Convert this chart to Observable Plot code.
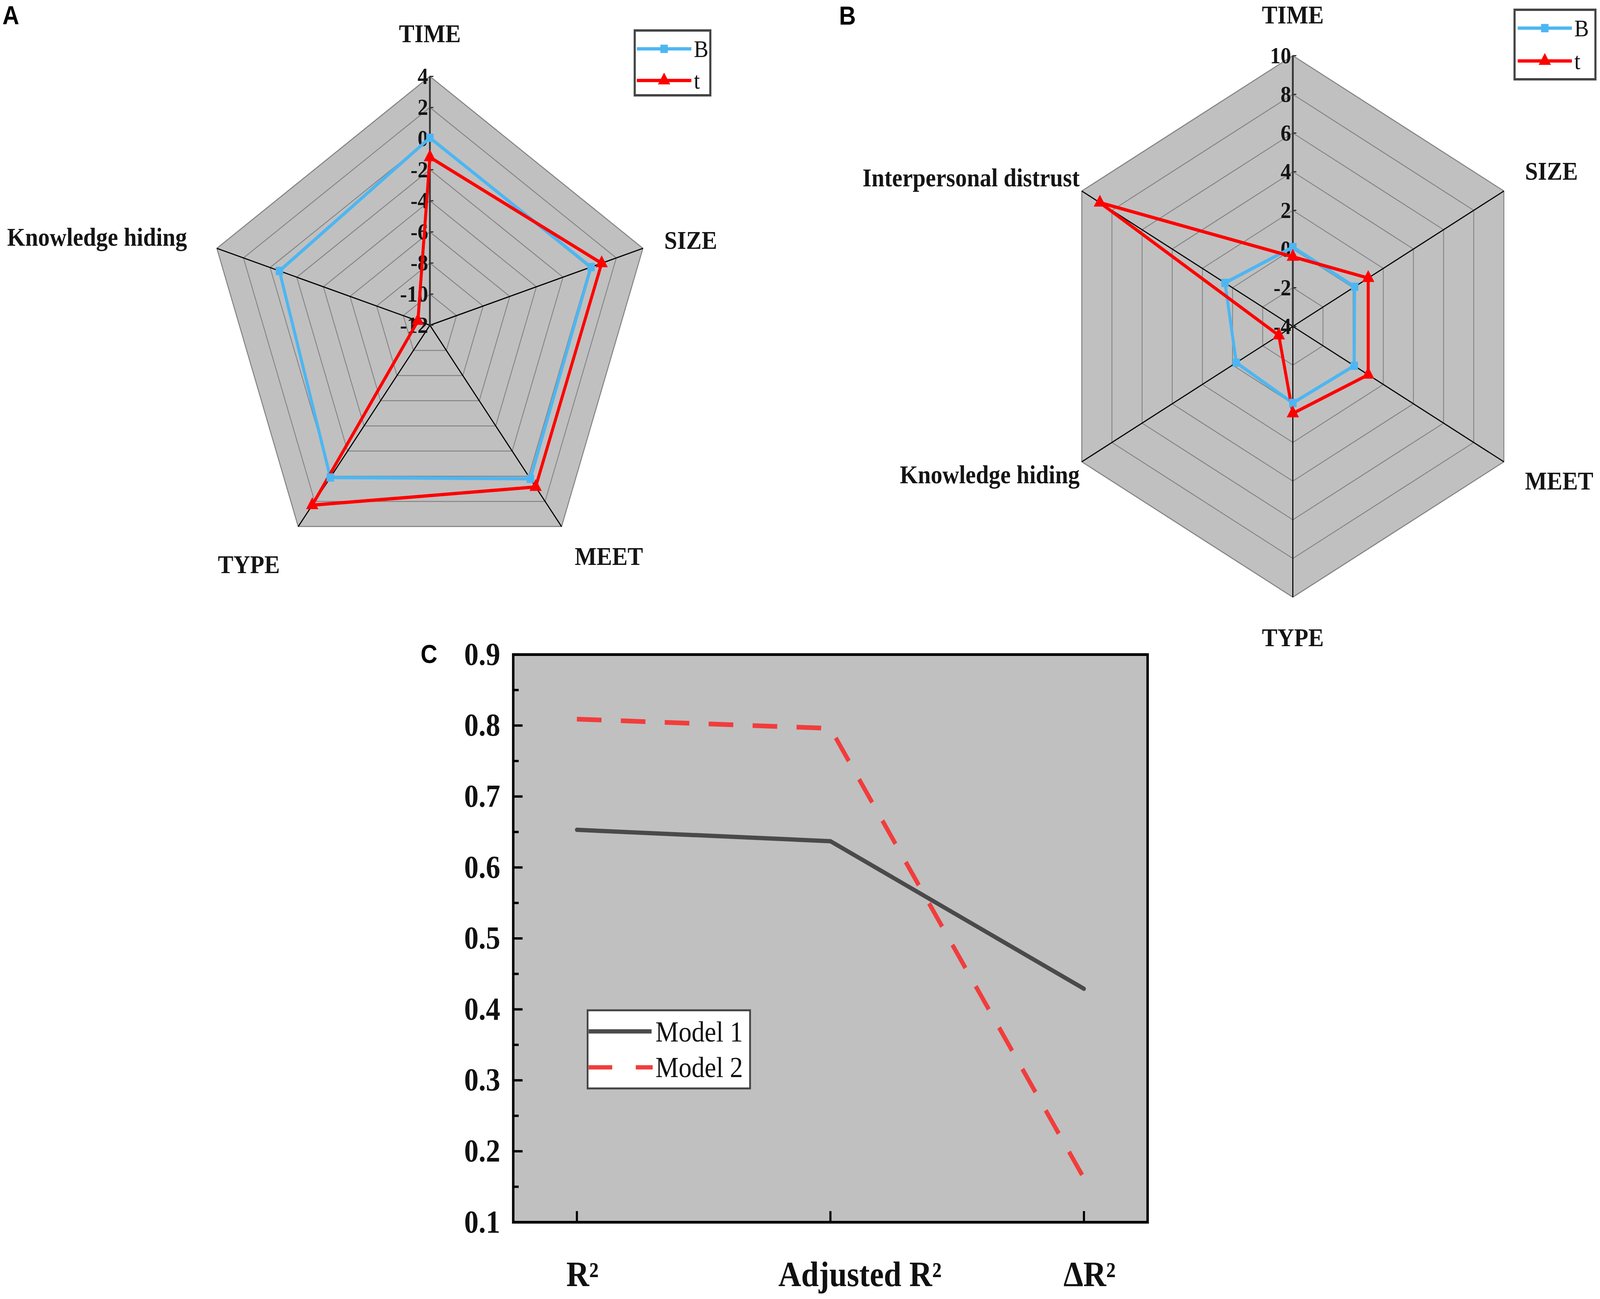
<!DOCTYPE html>
<html>
<head>
<meta charset="utf-8">
<script src="https://cdn.jsdelivr.net/npm/d3@7"></script>
<script src="https://cdn.jsdelivr.net/npm/@observablehq/plot@0.6"></script>
<style>
  html, body { margin: 0; padding: 0; background: #fff; overflow: hidden; }
  #root { position: relative; width: 4550px; height: 3325px; overflow: hidden; background: #fff; transform-origin: 0 0; }
  #root > svg { position: absolute; }
</style>
</head>
<body>
<div id="root"></div>
<script>
// ---------- DATA ----------
// Panel A (pentagon radar)
const radarAAxes = ["TIME", "SIZE", "MEET", "TYPE", "Knowledge hiding"];
const radarAB = [0.05, 0.1, 0.2, 0.1, -0.7];
const radarAT = [-1.2, 0.9, 0.85, 2.3, -11.1];
const radarATicks = [4, 2, 0, -2, -4, -6, -8, -10, -12];

// Panel B (hexagon radar)
const radarBAxes = ["TIME", "SIZE", "MEET", "TYPE", "Knowledge hiding", "Interpersonal distrust"];
const radarBB = [0.1, 0.1, 0.07, -0.04, -0.25, 0.5];
const radarBT = [-0.4, 1.0, 1.0, 0.5, -3.07, 8.8];
const radarBTicks = [10, 8, 6, 4, 2, 0, -2, -4];

// Panel C (line chart)
const metricLabels = ["R²", "Adjusted R²", "ΔR²"];
const model1 = [0.653, 0.637, 0.429];
const model2 = [0.809, 0.796, 0.162];
const cMajorTicks = [0.1, 0.2, 0.3, 0.4, 0.5, 0.6, 0.7, 0.8, 0.9];
const cMinorTicks = [0.15, 0.25, 0.35, 0.45, 0.55, 0.65, 0.75, 0.85];
const seriesNames = ["B", "t"];
const modelNames = ["Model 1", "Model 2"];

// ---------- STYLE ----------
const BLUE = "#4db6f2";
const RED = "#ff0000";
const RED_C = "#f23c3c";
const GRAY_C = "#4a4a4a";
const FILL = "#c0c0c0";
const GRID = "#858585";
const SERIF = "'Liberation Serif', 'Times New Roman', serif";
const SANS = "'Liberation Sans', Arial, sans-serif";

const root = document.getElementById("root");

// fill the browser window with the 4550x3325 layout
const vw = window.innerWidth || 4550, vh = window.innerHeight || 3325;
root.style.transform = `scale(${vw / 4550}, ${vh / 3325})`;

function radar(cfg) {
  const {axes, bVals, tVals, min, max, ticks, width, height, cx, cy, R,
         rightR, leftR, rightShift, leftShift, vertR} = cfg;
  const n = axes.length;
  const ang = i => Math.PI / 2 - (i * 2 * Math.PI) / n;
  const rad = v => (v - min) / (max - min);
  const pt = (i, r) => ({x: r * Math.cos(ang(i)), y: r * Math.sin(ang(i))});
  const ringRows = [];
  for (const t of ticks) {
    if (t <= min) continue;
    for (let k = 0; k <= n; k++) ringRows.push({...pt(k % n, rad(t)), t});
  }
  const outer = d3.range(n + 1).map(k => pt(k % n, 1));
  const spokes = axes.map((a, i) => ({...pt(i, 1), a}));
  const loop = vals => d3.range(n + 1).map(k => pt(k % n, rad(vals[k % n])));
  const bLoop = loop(bVals), tLoop = loop(tVals);
  const labelMarks = axes.map((a, i) => {
    const c = Math.cos(ang(i)), s = Math.sin(ang(i));
    const vertical = Math.abs(c) < 0.1;
    const r = vertical ? vertR : (c > 0 ? rightR : leftR);
    const shift = vertical ? 0 : (c > 0 ? rightShift : leftShift);
    return Plot.text([a], {
      x: () => r * c, y: () => r * s, text: d => d,
      textAnchor: vertical ? "middle" : (c > 0 ? "start" : "end"),
      lineAnchor: (!vertical && s < -0.6) ? "top" : "middle",
      dy: -s * shift,
      fontSize: 66, fontWeight: "bold", fill: "#151515"
    });
  });
  const tickLen = 10 / R;
  return Plot.plot({
    width, height,
    marginTop: 0, marginRight: 0, marginBottom: 0, marginLeft: 0,
    x: {domain: [-cx / R, (width - cx) / R], axis: null},
    y: {domain: [(cy - height) / R, cy / R], axis: null},
    style: {fontFamily: SERIF, background: "transparent", overflow: "visible"},
    marks: [
      Plot.line(outer, {x: "x", y: "y", fill: FILL, stroke: GRID, strokeWidth: 2.5}),
      Plot.line(ringRows, {x: "x", y: "y", z: "t", stroke: GRID, strokeWidth: 2.5}),
      Plot.link(spokes, {x1: 0, y1: 0, x2: "x", y2: "y", stroke: "#000", strokeWidth: 3}),
      Plot.link(spokes.slice(0, 1), {x1: 0, y1: 0, x2: "x", y2: "y", stroke: "#333", strokeWidth: 5}),
      Plot.link(ticks, {x1: 0, x2: tickLen, y1: t => rad(t), y2: t => rad(t), stroke: "#333", strokeWidth: 3}),
      Plot.text(ticks, {x: 0, y: t => rad(t), text: t => String(t), textAnchor: "end", dx: -5,
        fontSize: 60, fontWeight: "bold", fill: "#151515"}),
      Plot.line(bLoop, {x: "x", y: "y", stroke: BLUE, strokeWidth: 8.5}),
      Plot.line(tLoop, {x: "x", y: "y", stroke: RED, strokeWidth: 8.5}),
      Plot.dot(bLoop.slice(0, n), {x: "x", y: "y", symbol: "square", r: 12, fill: BLUE, stroke: "none"}),
      Plot.dot(tLoop.slice(0, n), {x: "x", y: "y", symbol: "triangle", r: 13, fill: RED, stroke: "none"}),
      ...labelMarks
    ]
  });
}

// Panel A
const svgA = radar({
  axes: radarAAxes, bVals: radarAB, tVals: radarAT,
  min: d3.min(radarATicks), max: d3.max(radarATicks), ticks: radarATicks,
  width: 2100, height: 1500, cx: 1222, cy: 832, R: 637,
  rightR: 1.1, leftR: 1.14, rightShift: 0, leftShift: 0, vertR: 1.17
});
svgA.style.left = "0px"; svgA.style.top = "0px";
root.appendChild(svgA);

// Panel B
const svgB = radar({
  axes: radarBAxes, bVals: radarBB, tVals: radarBT,
  min: d3.min(radarBTicks), max: d3.max(radarBTicks), ticks: radarBTicks,
  width: 2250, height: 1700, cx: 1376, cy: 842, R: 693,
  rightR: 1.1, leftR: 1.01, rightShift: 30, leftShift: 60, vertR: 1.15
});
svgB.style.left = "2300px"; svgB.style.top = "-7px";
root.appendChild(svgB);

// Panel C
const cW = 2300, cH = 1725, cML = 359, cMR = 137, cMT = 75, cMB = 197;
const frameW = cW - cML - cMR, frameH = cH - cMT - cMB;
const rows1 = metricLabels.map((m, i) => ({m, v: model1[i]}));
const rows2 = metricLabels.map((m, i) => ({m, v: model2[i]}));
const svgC = Plot.plot({
  width: cW, height: cH,
  marginLeft: cML, marginRight: cMR, marginTop: cMT, marginBottom: cMB,
  x: {type: "point", domain: metricLabels, padding: 0.25, label: null},
  y: {domain: [0.1, 0.9], label: null},
  style: {fontFamily: SERIF, fontWeight: "bold", background: "transparent", overflow: "visible", color: "#111"},
  marks: [
    Plot.frame({fill: FILL, stroke: "none"}),
    Plot.tickY(cMinorTicks, {y: d => d, insetRight: frameW - 16, stroke: "#000", strokeWidth: 6}),
    Plot.tickY(cMajorTicks, {y: d => d, insetRight: frameW - 27, stroke: "#000", strokeWidth: 6}),
    Plot.tickX(metricLabels, {x: d => d, insetTop: frameH - 28, stroke: "#000", strokeWidth: 6}),
    Plot.line(rows1, {x: "m", y: "v", stroke: GRAY_C, strokeWidth: 11}),
    Plot.line(rows2, {x: "m", y: "v", stroke: RED_C, strokeWidth: 12, strokeDasharray: "70,55", strokeLinecap: "butt"}),
    Plot.frame({stroke: "#000", strokeWidth: 7}),
    Plot.axisY({ticks: cMajorTicks, tickSize: 0, tickPadding: 37, tickFormat: d3.format(".1f"),
      fontSize: 82, fontWeight: "bold", label: null}),
    Plot.axisX({ticks: [metricLabels[0], metricLabels[2]], tickSize: 0, tickPadding: 100, dx: 16,
      fontSize: 90, fontWeight: "bold", label: null}),
    Plot.axisX({ticks: [metricLabels[1]], tickSize: 0, tickPadding: 100, dx: 84,
      fontSize: 90, fontWeight: "bold", label: null})
  ]
});
svgC.style.left = "1100px"; svgC.style.top = "1600px";
root.appendChild(svgC);

// ---------- Overlay: panel tags and legends ----------
const ov = d3.select(root).append("svg")
  .attr("width", 4550).attr("height", 3325)
  .style("left", "0px").style("top", "0px").style("pointer-events", "none");

[["A", 7, 62], ["B", 2386, 63], ["C", 1196, 1697]].forEach(([t, x, y]) => {
  ov.append("text").attr("x", x).attr("y", y).text(t)
    .attr("font-family", SANS).attr("font-weight", "bold").attr("font-size", 66).attr("fill", "#000");
});

function radarLegend(x0, y0, w, h, y1, y2, lineX1, lineX2, textX) {
  const g = ov.append("g");
  g.append("rect").attr("x", x0).attr("y", y0).attr("width", w).attr("height", h)
    .attr("fill", "#fff").attr("stroke", "#444").attr("stroke-width", 6);
  const mx = (lineX1 + lineX2) / 2;
  [[y1, BLUE, d3.symbolSquare, 12, seriesNames[0]], [y2, RED, d3.symbolTriangle, 13, seriesNames[1]]].forEach(([y, col, sym, r, name]) => {
    g.append("line").attr("x1", lineX1).attr("x2", lineX2).attr("y1", y).attr("y2", y)
      .attr("stroke", col).attr("stroke-width", 8.5);
    g.append("path").attr("d", d3.symbol(sym, Math.PI * r * r)()).attr("transform", `translate(${mx},${y})`).attr("fill", col);
    g.append("text").attr("x", textX).attr("y", y + 21).text(name)
      .attr("font-family", SERIF).attr("font-size", 62).attr("fill", "#111");
  });
}
radarLegend(1805, 78, 215, 166, 125, 206, 1811, 1966, 1973);
radarLegend(4307, 25, 230, 178, 72, 156, 4316, 4470, 4477);

// Legend C
(function () {
  const g = ov.append("g");
  g.append("rect").attr("x", 1671).attr("y", 2586).attr("width", 462).attr("height", 200)
    .attr("fill", "#fff").attr("stroke", "#444").attr("stroke-width", 5);
  g.append("line").attr("x1", 1674).attr("x2", 1853).attr("y1", 2640).attr("y2", 2640)
    .attr("stroke", GRAY_C).attr("stroke-width", 11);
  g.append("line").attr("x1", 1674).attr("x2", 1856).attr("y1", 2732).attr("y2", 2732)
    .attr("stroke", RED_C).attr("stroke-width", 11).attr("stroke-dasharray", "67,67");
  [[modelNames[0], 2666], [modelNames[1], 2757]].forEach(([t, y]) => {
    g.append("text").attr("x", 1864).attr("y", y).text(t)
      .attr("font-family", SERIF).attr("font-size", 74).attr("fill", "#111");
  });
})();
</script>
</body>
</html>
